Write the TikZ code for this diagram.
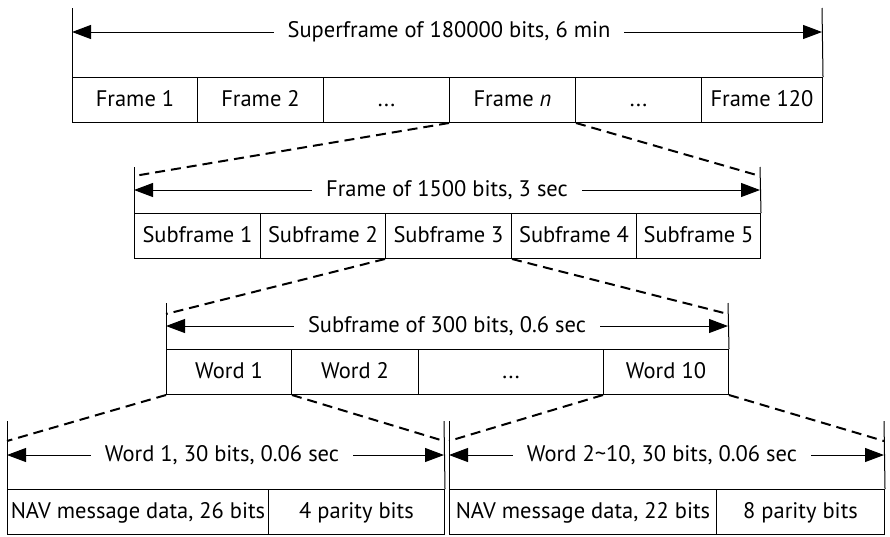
\documentclass[tikz,border=0pt]{standalone}
\usepackage{fontspec}
\setmainfont{PT Sans}
\usetikzlibrary{arrows.meta}

\begin{document}
\begin{tikzpicture}[x=1pt, y=-1pt, >={Triangle[length=19pt,width=14pt]},
  cell/.style={draw, line width=1pt, anchor=north west, minimum height=45pt, inner sep=0pt, text height=16pt, text depth=4pt, font=\fontsize{22.5}{26}\selectfont},
  span/.style={fill=white, inner xsep=14pt, inner ysep=2pt, font=\fontsize{22.5}{26}\selectfont},
  side/.style={line width=1pt},
  zoomline/.style={line width=2pt, dash pattern=on 10pt off 6pt}]

\useasboundingbox (0,0) rectangle (890,536);

% Superframe
\node[cell, minimum width=125pt] (f1) at (72,77) {Frame 1};
\node[cell, minimum width=126pt] (f2) at (197,77) {Frame 2};
\node[cell, minimum width=126pt] (f3) at (323,77) {...};
\node[cell, minimum width=126pt] (fn) at (449,77) {Frame \textit{n}};
\node[cell, minimum width=126pt] (f4) at (575,77) {...};
\node[cell, minimum width=121pt] (f120) at (701,77) {Frame 120};

\coordinate (t1l) at (72,8);
\coordinate (t1r) at (822,8);
\coordinate (a1l) at (72,32);
\coordinate (a1r) at (822,32);
\draw[side] (t1l) -- (f1.north west);
\draw[side] (t1r) -- (f120.north east);
\draw[side, <->] (a1l) -- (a1r);
\node[span] (s1) at (449,32) {Superframe of 180000 bits, 6 min};

% Frame
\node[cell, minimum width=126pt] (sf1) at (134,213) {Subframe 1};
\node[cell, minimum width=125pt] (sf2) at (260,213) {Subframe 2};
\node[cell, minimum width=126pt] (sf3) at (385,213) {Subframe 3};
\node[cell, minimum width=125pt] (sf4) at (511,213) {Subframe 4};
\node[cell, minimum width=124pt] (sf5) at (636,213) {Subframe 5};

\coordinate (t2l) at (134,167);
\coordinate (t2r) at (760,167);
\coordinate (a2l) at (134,190);
\coordinate (a2r) at (760,190);
\coordinate (d2l) at (134,176);
\coordinate (d2r) at (760,176);
\draw[side] (t2l) -- (sf1.north west);
\draw[side] (t2r) -- (sf5.north east);
\draw[side, <->] (a2l) -- (a2r);
\node[span] (s2) at (447,190) {Frame of 1500 bits, 3 sec};
\draw[zoomline] (fn.south west) -- (d2l);
\draw[zoomline] (fn.south east) -- (d2r);

% Subframe
\node[cell, minimum width=125pt] (w1) at (166,349) {Word 1};
\node[cell, minimum width=127pt] (w2) at (291,349) {Word 2};
\node[cell, minimum width=185pt] (w3) at (418,349) {...};
\node[cell, minimum width=125pt] (w10) at (603,349) {Word 10};

\coordinate (t3l) at (166,303);
\coordinate (t3r) at (728,303);
\coordinate (a3l) at (166,326);
\coordinate (a3r) at (728,326);
\coordinate (d3l) at (166,314);
\coordinate (d3r) at (728,314);
\draw[side] (t3l) -- (w1.north west);
\draw[side] (t3r) -- (w10.north east);
\draw[side, <->] (a3l) -- (a3r);
\node[span] (s3) at (447,326) {Subframe of 300 bits, 0.6 sec};
\draw[zoomline] (sf3.south west) -- (d3l);
\draw[zoomline] (sf3.south east) -- (d3r);

% Words
\node[cell, minimum width=261pt] (nav1) at (7,489) {NAV message data, 26 bits};
\node[cell, minimum width=176pt] (par1) at (268,489) {4 parity bits};
\node[cell, minimum width=267pt] (nav2) at (449,489) {NAV message data, 22 bits};
\node[cell, minimum width=168pt] (par2) at (716,489) {8 parity bits};

\coordinate (t4a) at (7,421);
\coordinate (t4b) at (444,421);
\coordinate (t4c) at (449,421);
\coordinate (t4d) at (884,421);
\coordinate (a4a) at (7,455);
\coordinate (a4b) at (444,455);
\coordinate (a4c) at (449,455);
\coordinate (a4d) at (884,455);
\coordinate (d4a) at (7,441);
\coordinate (d4b) at (444,441);
\coordinate (d4c) at (449,441);
\coordinate (d4d) at (884,441);
\draw[side] (t4a) -- (nav1.north west);
\draw[side] (t4b) -- (par1.north east);
\draw[side] (t4c) -- (nav2.north west);
\draw[side] (t4d) -- (par2.north east);
\draw[side, <->] (a4a) -- (a4b);
\draw[side, <->] (a4c) -- (a4d);
\node[span] (s4) at (222,455) {Word 1, 30 bits, 0.06 sec};
\node[span] (s5) at (662,455) {Word 2\textasciitilde 10, 30 bits, 0.06 sec};
\draw[zoomline] (w1.south west) -- (d4a);
\draw[zoomline] (w1.south east) -- (d4b);
\draw[zoomline] (w10.south west) -- (d4c);
\draw[zoomline] (w10.south east) -- (d4d);

\end{tikzpicture}
\end{document}
